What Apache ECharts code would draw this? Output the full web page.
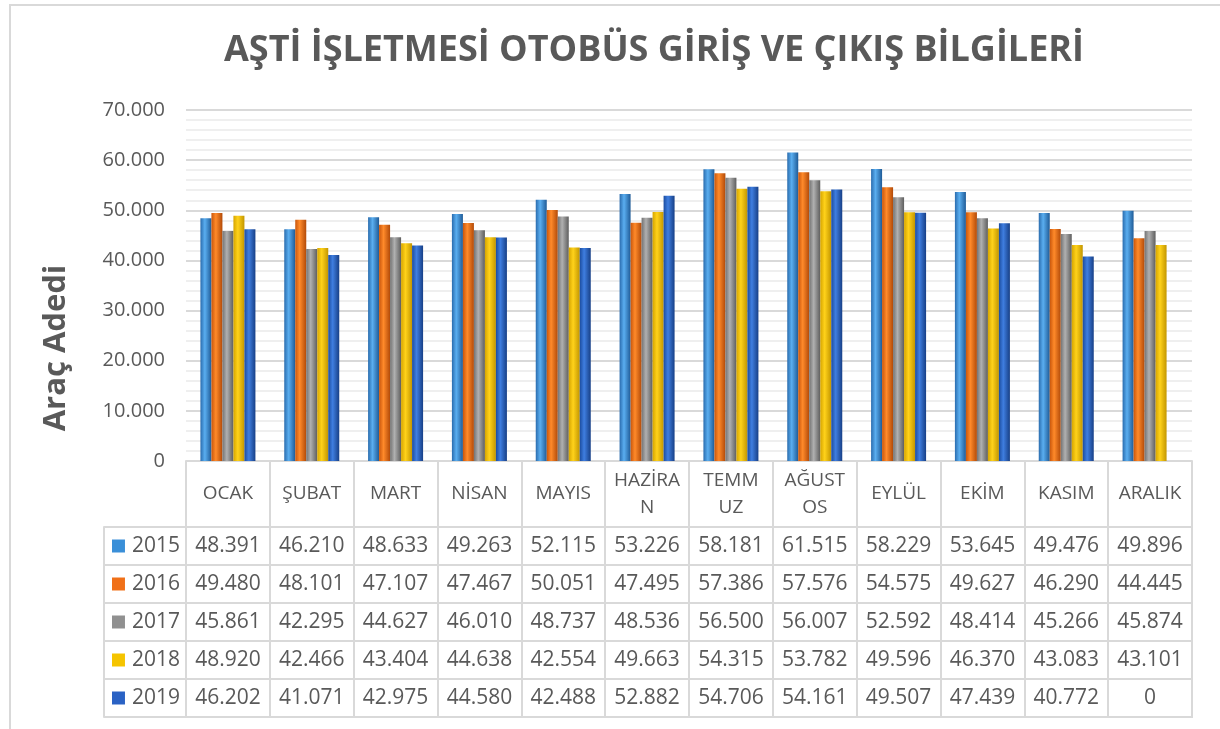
<!DOCTYPE html>
<html>
<head>
<meta charset="utf-8">
<script src="https://cdn.jsdelivr.net/npm/echarts@6/dist/echarts.min.js"></script>
<style>
html,body{margin:0;padding:0;background:#fff;}
#c{width:1220px;height:729px;}
</style>
</head>
<body>
<div id="c"></div>
<script>
const titleText = 'AŞTİ İŞLETMESİ OTOBÜS GİRİŞ VE ÇIKIŞ BİLGİLERİ';
const yTitle = 'Araç Adedi';
const months = ['OCAK','ŞUBAT','MART','NİSAN','MAYIS','HAZİRAN','TEMMUZ','AĞUSTOS','EYLÜL','EKİM','KASIM','ARALIK'];
const headerLabels = ['OCAK','ŞUBAT','MART','NİSAN','MAYIS','HAZİRA\nN','TEMM\nUZ','AĞUST\nOS','EYLÜL','EKİM','KASIM','ARALIK'];
const years = ['2015','2016','2017','2018','2019'];
const v2015 = [48391,46210,48633,49263,52115,53226,58181,61515,58229,53645,49476,49896];
const v2016 = [49480,48101,47107,47467,50051,47495,57386,57576,54575,49627,46290,44445];
const v2017 = [45861,42295,44627,46010,48737,48536,56500,56007,52592,48414,45266,45874];
const v2018 = [48920,42466,43404,44638,42554,49663,54315,53782,49596,46370,43083,43101];
const v2019 = [46202,41071,42975,44580,42488,52882,54706,54161,49507,47439,40772,0];
const yMin = 0, yMax = 70000, yStep = 10000;

const values = [v2015, v2016, v2017, v2018, v2019];
const palette = [
  ['#2a6cae', '#5aaef0', '#1f5b97'],
  ['#c9560b', '#ff8a2a', '#b24a08'],
  ['#737373', '#b0b0b0', '#5e5e5e'],
  ['#d6a500', '#ffd21a', '#c39600'],
  ['#1b4c9f', '#3f7ee0', '#173f86']
];
const legendColors = ['#3a8fd8', '#f07018', '#909090', '#f5c400', '#2a62c4'];
const gray = '#595959';
const lineCol = '#d9d9d9';
const FONT = '"Open Sans", "DejaVu Sans", sans-serif';

function fmt(n) {
  return String(n).replace(/\B(?=(\d{3})+(?!\d))/g, '.');
}

function grad(c) {
  return new echarts.graphic.LinearGradient(0, 0, 1, 0, [
    {offset: 0, color: c[0]},
    {offset: 0.4, color: c[1]},
    {offset: 1, color: c[2]}
  ]);
}

const barSeries = years.map((y, i) => ({
  name: y,
  type: 'bar',
  xAxisIndex: 0,
  yAxisIndex: 0,
  barWidth: 11,
  barGap: '0%',
  itemStyle: {color: grad(palette[i])},
  data: values[i]
}));

const tableData = [];
years.forEach((y, i) => {
  values[i].forEach((v, j) => tableData.push([j, i, v]));
});

const rich = {y: {fontSize: 21, color: gray, fontFamily: FONT, padding: [0, 0, 0, 7]}};
legendColors.forEach((c, i) => { rich['m' + i] = {width: 13, height: 13, backgroundColor: c}; });

const chart = echarts.init(document.getElementById('c'), null, {renderer: 'canvas'});
chart.setOption({
  animation: false,
  backgroundColor: '#fff',
  textStyle: {fontFamily: FONT},
  title: {
    text: titleText,
    left: 649,
    top: 28,
    textAlign: 'center',
    textStyle: {fontSize: 36, fontWeight: 'bold', color: gray, fontFamily: FONT}
  },
  graphic: [
    {type: 'rect', z: -10, shape: {x: 10, y: 5, width: 1300, height: 800},
     style: {fill: 'none', stroke: lineCol, lineWidth: 2}},
    {type: 'text', x: 56, y: 348, rotation: Math.PI / 2,
     style: {text: yTitle, fill: gray, font: 'bold 31px ' + FONT, align: 'center', verticalAlign: 'middle'}}
  ],
  grid: [
    {left: 186, right: 28, top: 110, bottom: 268},
    {left: 186, right: 28, top: 527, height: 190, show: true, borderColor: lineCol, borderWidth: 2, backgroundColor: 'transparent'}
  ],
  xAxis: [
    {
      type: 'category', gridIndex: 0, data: months,
      axisLine: {lineStyle: {color: lineCol, width: 2}},
      axisTick: {show: true, length: 66, interval: 0, lineStyle: {color: lineCol, width: 2}},
      axisLabel: {interval: 0, formatter: (v, i) => headerLabels[i], color: gray, fontSize: 19,
        fontFamily: FONT, lineHeight: 27, margin: 33, verticalAlign: 'middle'},
      splitLine: {show: false}
    },
    {
      type: 'category', gridIndex: 1, data: months,
      axisLine: {show: false}, axisTick: {show: false}, axisLabel: {show: false},
      splitLine: {show: true, interval: 0, lineStyle: {color: lineCol, width: 2}}
    }
  ],
  yAxis: [
    {
      type: 'value', gridIndex: 0, min: yMin, max: yMax, interval: yStep,
      axisLine: {show: false}, axisTick: {show: false},
      axisLabel: {formatter: v => fmt(v), color: gray, fontSize: 20, fontFamily: FONT, margin: 21},
      splitLine: {lineStyle: {color: lineCol, width: 2}},
      minorTick: {show: false, splitNumber: 5},
      minorSplitLine: {show: true, lineStyle: {color: '#efefef', width: 2}}
    },
    {
      type: 'category', gridIndex: 1, data: years, inverse: true,
      axisLine: {show: true, lineStyle: {color: lineCol, width: 2}},
      axisTick: {show: true, length: 82, interval: 0, alignWithLabel: false, lineStyle: {color: lineCol, width: 2}},
      axisLabel: {interval: 0, margin: 6, formatter: (v, i) => '{m' + i + '|}{y|' + v + '}', rich: rich},
      splitLine: {show: true, interval: 0, lineStyle: {color: lineCol, width: 2}}
    },
    {
      type: 'category', gridIndex: 1, data: years, inverse: true, position: 'left', offset: 82,
      axisLine: {show: true, lineStyle: {color: lineCol, width: 2}},
      axisTick: {show: false}, axisLabel: {show: false}, splitLine: {show: false}
    }
  ],
  series: barSeries.concat([{
    type: 'custom',
    xAxisIndex: 1,
    yAxisIndex: 1,
    silent: true,
    data: tableData,
    renderItem: (params, api) => {
      const p = api.coord([api.value(0), api.value(1)]);
      return {
        type: 'text', x: p[0], y: p[1],
        style: {text: fmt(api.value(2)), fill: gray, font: '21px ' + FONT, align: 'center', verticalAlign: 'middle'}
      };
    }
  }])
});
</script>
</body>
</html>
